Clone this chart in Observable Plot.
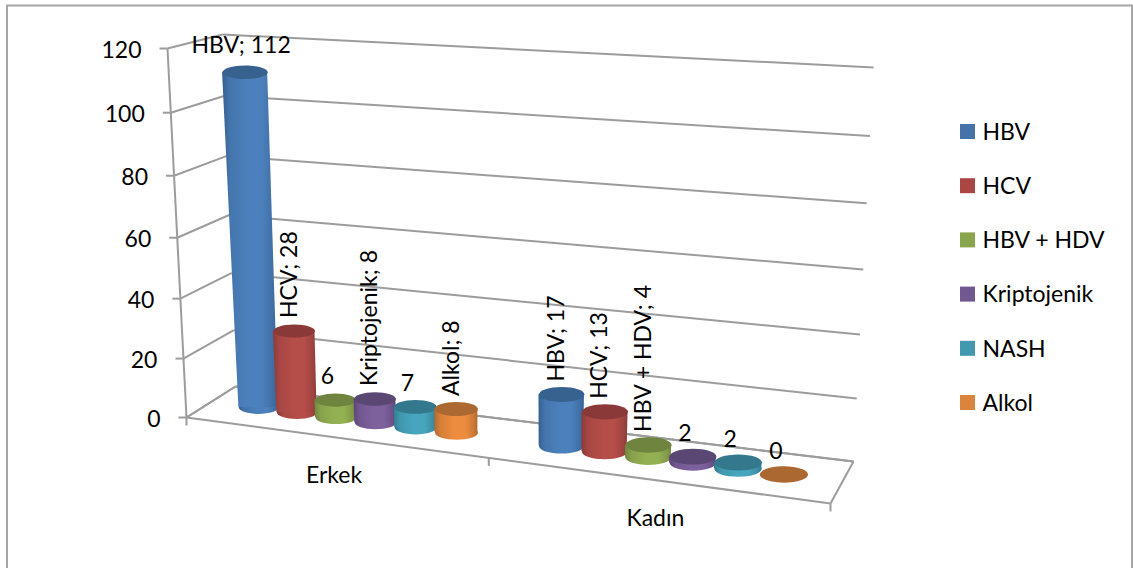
<!DOCTYPE html>
<html>
<head>
<meta charset="utf-8">
<script src="https://cdn.jsdelivr.net/npm/d3@7"></script>
<script src="https://cdn.jsdelivr.net/npm/@observablehq/plot@0.6"></script>
<style>
  html, body { margin: 0; padding: 0; background: #fff; }
  svg { display: block; }
</style>
</head>
<body>
<script>
// Patient counts per aetiology, by sex
const groups = ["Erkek", "Kadın"];
const series = ["HBV", "HCV", "HBV + HDV", "Kriptojenik", "NASH", "Alkol"];
const erkek = [112, 28, 6, 8, 7, 8];
const kadin = [17, 13, 4, 2, 2, 0];
const valueTicks = [0, 20, 40, 60, 80, 100, 120];

// Which bars name their series in the data label, and how the label is set
const namedErkek = [true, true, false, true, false, true];
const namedKadin = [true, true, true, false, false, false];
const uprightErkek = [true, false, true, false, true, false];
const uprightKadin = [false, false, false, true, true, true];

// Swatch, lit side, shaded edge and end-cap tones of each series
const swatch = ["#4572A7", "#AA4643", "#89A54E", "#71588F", "#4198AF", "#DB843D"];
const lit = ["#4C80BC", "#B54D49", "#93B052", "#7D619D", "#47A5BE", "#EC8C3F"];
const edge = ["#34608F", "#8A3A38", "#708640", "#5C4576", "#337A8E", "#B0682E"];
const cap = ["#37618E", "#8A3938", "#6E843F", "#5B4773", "#33788C", "#AC6831"];

// Corners of the oblique chart box as they land on the page
const floor = { fl: [186, 417], fr: [830, 503], br: [853, 461], bl: [235, 386] };
const wallTop = { fl: [167, 48], bl: [222, 34], br: [873, 67] };
const vanish = [523, 6959];
const heights = { fl: 365, fr: 404, br: 394, bl: 349 };

const W = 1133, H = 568, maxValue = 120;
const fontFamily = "Lato, 'Open Sans', sans-serif";

// Square-to-quadrilateral homography for the floor of the box,
// with a slight easing of the category direction
const floorAt = (() => {
  const [x0, y0] = floor.fl, [x1, y1] = floor.fr, [x2, y2] = floor.br, [x3, y3] = floor.bl;
  const dx1 = x1 - x2, dx2 = x3 - x2, sx = x0 - x1 + x2 - x3;
  const dy1 = y1 - y2, dy2 = y3 - y2, sy = y0 - y1 + y2 - y3;
  const den = dx1 * dy2 - dx2 * dy1;
  const g = (sx * dy2 - dx2 * sy) / den, h = (dx1 * sy - sx * dy1) / den;
  const a = x1 - x0 + g * x1, b = x3 - x0 + h * x3;
  const d = y1 - y0 + g * y1, e = y3 - y0 + h * y3;
  return (u0, w) => {
    const u = u0 + 0.07 * u0 * (1 - u0);
    const q = g * u + h * w + 1;
    return [(a * u + b * w + x0) / q, (d * u + e * w + y0) / q];
  };
})();

// Foreshortening of the value axis: units grow slightly towards the top
const rise = (v) => {
  const t = v / maxValue, k = 0.05;
  return (t * (1 - k)) / (1 - k * t);
};
const lerp = (p, q, t) => [p[0] + (q[0] - p[0]) * t, p[1] + (q[1] - p[1]) * t];

// Page position of a value standing on the floor point (u, w)
function lift(u, w, v) {
  const [px, py] = floorAt(u, w);
  const h = (1 - w) * ((1 - u) * heights.fl + u * heights.fr) + w * ((1 - u) * heights.bl + u * heights.br);
  const y = py - h * rise(v);
  return [px + ((vanish[0] - px) * (y - py)) / (vanish[1] - py), y];
}

// Six slots plus one and a half of gap in each category
const slot = 1 / (groups.length * (series.length + 1.5));
const barDepth = 0.4, barRow = 0.5;

const bars = groups.flatMap((group, g) =>
  series.map((name, s) => {
    const value = (g === 0 ? erkek : kadin)[s];
    const named = (g === 0 ? namedErkek : namedKadin)[s];
    const upright = (g === 0 ? uprightErkek : uprightKadin)[s];
    const u = (g * (series.length + 1.5) + 0.75 + s + 0.5) * slot;
    const base = floorAt(u, barRow);
    const rx = 1.04 * (floorAt(u + slot / 2, barRow)[0] - floorAt(u - slot / 2, barRow)[0]) / 2;
    const ry = (floorAt(u, barRow - barDepth / 2)[1] - floorAt(u, barRow + barDepth / 2)[1]) / 2;
    const top = lift(u, barRow, value);
    const grow = 1 + 0.15 * (value / maxValue);
    return {
      group, name, s, value, base, top, rx, ry,
      topRx: rx * grow, topRy: ry * (1 + 0.07 * (value / maxValue)),
      label: named ? `${name}; ${value}` : `${value}`, upright
    };
  })
);

// Ellipse of a given aspect, drawn as a dot symbol
const ellipse = (aspect) => ({
  draw(context, size) {
    const a = Math.sqrt(size / Math.PI), b = a * aspect, c = 0.5523;
    context.moveTo(a, 0);
    context.bezierCurveTo(a, c * b, c * a, b, 0, b);
    context.bezierCurveTo(-c * a, b, -a, c * b, -a, 0);
    context.bezierCurveTo(-a, -c * b, -c * a, -b, 0, -b);
    context.bezierCurveTo(c * a, -b, a, -c * b, a, 0);
    context.closePath();
  }
});

// Side shading of the cylinders
const gradients = () => {
  const defs = d3.create("svg:defs");
  series.forEach((_, i) => {
    const grad = defs.append("linearGradient").attr("id", `side${i}`).attr("x1", 0).attr("x2", 1).attr("y1", 0).attr("y2", 0);
    [[0, edge[i]], [0.14, d3.interpolateRgb(edge[i], lit[i])(0.65)], [0.45, lit[i]], [0.72, lit[i]], [0.92, d3.interpolateRgb(edge[i], lit[i])(0.45)], [1, edge[i]]]
      .forEach(([o, c]) => grad.append("stop").attr("offset", o).attr("stop-color", c));
  });
  return defs.node();
};

// Box edges: wall grid lines, left wall, floor outline
const gridLines = valueTicks.map((v) => {
  const t = rise(v);
  return {
    front: lerp(floor.fl, wallTop.fl, t),
    back: lerp(floor.bl, wallTop.bl, t),
    right: lerp(floor.br, wallTop.br, t)
  };
});
const gridColor = "#9c9c9c";
const segment = (rows, from, to, extra = {}) =>
  Plot.link(rows, {
    x1: (d) => from(d)[0], y1: (d) => from(d)[1],
    x2: (d) => to(d)[0], y2: (d) => to(d)[1],
    stroke: gridColor, strokeWidth: 2, ...extra
  });

const floorEdges = [[floor.fl, floor.fr], [floor.fr, floor.br], [floor.br, floor.bl], [floor.bl, floor.fl]];
const wallEdges = [[floor.fl, wallTop.fl]];
const categoryTicks = [0, 0.5, 1].map((u) => floorAt(u, 0));
const categoryLabels = groups.map((name, g) => {
  const [x, y] = floorAt((g + 0.5) / groups.length, 0);
  return { name, x: x + 1, y: y + 39 };
});

const barMarks = bars.flatMap((b) => {
  const i = b.s;
  const marks = [];
  const bottom = Plot.dot([b], {
    x: (d) => d.base[0], y: (d) => d.base[1], r: b.rx,
    symbol: ellipse(b.ry / b.rx), fill: `url(#side${i})`, stroke: "none"
  });
  if (b.value > 0) {
    marks.push(bottom);
    marks.push(
      Plot.area(
        [
          { y: b.base[1], xl: b.base[0] - b.rx, xr: b.base[0] + b.rx },
          { y: b.top[1], xl: b.top[0] - b.topRx, xr: b.top[0] + b.topRx }
        ],
        { x1: "xl", x2: "xr", y1: "y", y2: "y", fill: `url(#side${i})`, stroke: "none" }
      )
    );
  }
  marks.push(
    Plot.dot([b], {
      x: (d) => d.top[0], y: (d) => d.top[1], r: b.topRx,
      symbol: ellipse(b.topRy / b.topRx), fill: cap[i], stroke: "none"
    })
  );
  return marks;
});

const textStyle = { fontFamily, fontSize: 23, fill: "#000", stroke: "none" };

const chart = Plot.plot({
  width: W,
  height: H,
  margin: 0,
  x: { domain: [0, W], range: [0, W], axis: null },
  y: { domain: [0, H], range: [0, H], axis: null },
  style: { background: "#fff", overflow: "visible" },
  marks: [
    gradients,
    // outer chart frame
    Plot.rect([{}], { x1: () => 7, x2: () => 1132, y1: () => 5.5, y2: () => H + 4, fill: "#fff", stroke: "#a6a6a6", strokeWidth: 2 }),

    // walls and floor
    segment(gridLines, (d) => d.back, (d) => d.right),
    segment(gridLines, (d) => d.front, (d) => d.back),
    segment(gridLines, (d) => [d.front[0] - 8, d.front[1]], (d) => d.front),
    segment(wallEdges, (d) => d[0], (d) => d[1]),
    segment(floorEdges, (d) => d[0], (d) => d[1]),
    segment(categoryTicks, (d) => d, (d) => [d[0], d[1] + 8]),

    // value axis labels
    Plot.text(gridLines.map((d, i) => ({ v: valueTicks[i], x: d.front[0] - 26, y: d.front[1] + 2 })), {
      x: "x", y: "y", text: (d) => `${d.v}`, textAnchor: "end", ...textStyle
    }),

    // cylinders, back to front along the floor
    ...barMarks,

    // data labels
    Plot.text(bars.filter((b) => b.upright || b.value > 100), {
      x: (d) => d.top[0] - (d.value > 100 ? 4 : 8),
      y: (d) => d.top[1] - (d.value > 100 ? 27 : 23),
      text: "label", ...textStyle
    }),
    Plot.text(bars.filter((b) => !b.upright && b.value <= 100), {
      x: (d) => d.top[0] - 5,
      y: (d) => d.top[1] - 13,
      text: "label", rotate: -90, textAnchor: "start", ...textStyle
    }),

    // category labels
    Plot.text(categoryLabels, { x: "x", y: "y", text: "name", ...textStyle }),

    // legend
    Plot.rect(series, {
      x1: () => 960, x2: () => 975,
      y1: (d, i) => 124 + i * 54.2, y2: (d, i) => 139 + i * 54.2,
      fill: (d, i) => swatch[i]
    }),
    Plot.text(series, {
      x: () => 982, y: (d, i) => 132 + i * 54.2, text: (d) => d, textAnchor: "start", ...textStyle
    })
  ]
});
document.body.appendChild(chart);
</script>
</body>
</html>
